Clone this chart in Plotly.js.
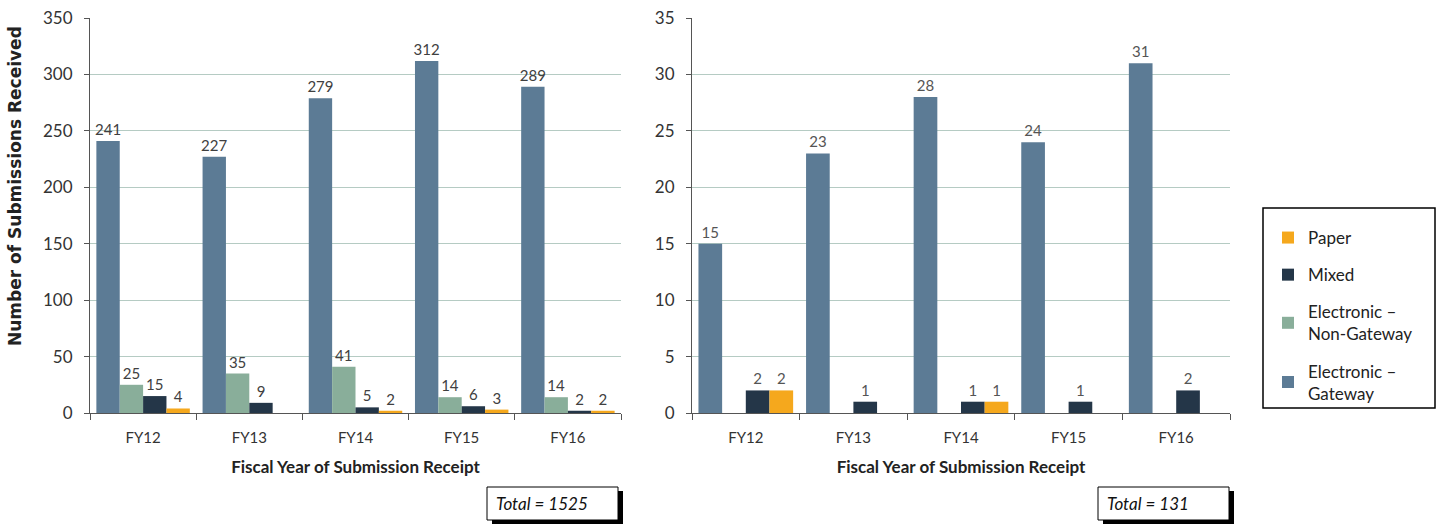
<!DOCTYPE html>
<html>
<head>
<meta charset="utf-8">
<script src="https://cdn.plot.ly/plotly-3.0.1.min.js"></script>
<style>html,body{margin:0;padding:0;background:#fff;}#chart{width:1440px;height:525px;}</style>
</head>
<body>
<div id="chart"></div>
<script>
// ---- data ----
const categories = ['FY12', 'FY13', 'FY14', 'FY15', 'FY16'];
const seriesNames = ['Electronic –<br>Gateway', 'Electronic –<br>Non-Gateway', 'Mixed', 'Paper'];
// left chart (all submissions)
const gatewayAll = [241, 227, 279, 312, 289];
const nonGatewayAll = [25, 35, 41, 14, 14];
const mixedAll = [15, 9, 5, 6, 2];
const paperAll = [4, 0, 2, 3, 2];
// right chart
const gatewayR = [15, 23, 28, 24, 31];
const nonGatewayR = [0, 0, 0, 0, 0];
const mixedR = [2, 1, 1, 1, 2];
const paperR = [2, 0, 1, 0, 0];
const yTicksLeft = [0, 50, 100, 150, 200, 250, 300, 350];
const yTicksRight = [0, 5, 10, 15, 20, 25, 30, 35];
const xTitle = 'Fiscal Year of Submission Receipt';
const yTitle = 'Number of Submissions Received';

const colors = ['#5c7b95', '#89ae9a', '#243648', '#f5a81d'];
const FONT = 'Lato, "Open Sans", sans-serif';

// layout geometry helpers (pixels -> paper coords)
const ML = 90, MR = 210, MT = 18, MB = 112, W = 1440, H = 525;
const PW = W - ML - MR, PH = H - MT - MB;
const px = v => (v - ML) / PW;
const py = v => (H - MB - v) / PH;

const leftSets = [gatewayAll, nonGatewayAll, mixedAll, paperAll];
const rightSets = [gatewayR, nonGatewayR, mixedR, paperR];
const lbl = arr => arr.map(v => v ? String(v) : '');
const sum = sets => sets.reduce((a, s) => a + s.reduce((x, y) => x + y, 0), 0);

const traces = [];
leftSets.forEach((vals, i) => {
  traces.push({
    type: 'bar', x: categories, y: vals, name: seriesNames[i], legendgroup: 'g' + i,
    legendrank: 100 - i * 10,
    marker: {color: colors[i]}, text: lbl(vals), textposition: 'outside',
    textfont: {family: FONT, size: 15, color: '#404040'}, constraintext: 'none',
    cliponaxis: false, hoverinfo: 'x+y+name', xaxis: 'x', yaxis: 'y'
  });
});
rightSets.forEach((vals, i) => {
  traces.push({
    type: 'bar', x: categories, y: vals, name: seriesNames[i], legendgroup: 'g' + i,
    legendrank: 100 - i * 10, showlegend: false,
    marker: {color: colors[i]}, text: lbl(vals), textposition: 'outside',
    textfont: {family: FONT, size: 15, color: '#555'}, constraintext: 'none',
    cliponaxis: false, hoverinfo: 'x+y+name', xaxis: 'x2', yaxis: 'y2'
  });
});

const axisLine = '#555555';
const gridCol = '#b5cbc3';
const xCommon = {
  type: 'category', tickson: 'boundaries', ticks: 'outside', ticklen: 6, tickcolor: axisLine,
  showline: true, linecolor: axisLine, linewidth: 1, showgrid: false,
  tickfont: {family: FONT, size: 15, color: '#333'}, ticklabelstandoff: 11,
  title: {text: xTitle, standoff: 16,
          font: {family: FONT, size: 17, color: '#222', weight: 'bold'}}
};
const yCommon = {
  ticks: 'outside', ticklen: 5, tickcolor: axisLine, showline: true, linecolor: axisLine,
  linewidth: 1, showgrid: true, gridcolor: gridCol, gridwidth: 1, zeroline: false,
  tickfont: {family: FONT, size: 17, color: '#333'}, ticklabelstandoff: 8
};

const layout = {
  width: W, height: H,
  margin: {l: ML, r: MR, t: MT, b: MB, pad: 0},
  paper_bgcolor: '#fff', plot_bgcolor: '#fff',
  barmode: 'group', bargap: 0.12, bargroupgap: 0,
  font: {family: FONT, color: '#333'},
  xaxis: Object.assign({}, xCommon, {domain: [0, px(621)], anchor: 'y'}),
  xaxis2: Object.assign({}, xCommon, {domain: [px(692), 1], anchor: 'y2'}),
  yaxis: Object.assign({}, yCommon, {range: [0, 350], tickvals: yTicksLeft, anchor: 'x'}),
  yaxis2: Object.assign({}, yCommon, {range: [0, 35], tickvals: yTicksRight, anchor: 'x2'}),
  showlegend: true,
  legend: {
    x: px(1268), y: py(220), xanchor: 'left', yanchor: 'top',
    traceorder: 'grouped', tracegroupgap: 12,
    font: {family: FONT, size: 17, color: '#222'}, bgcolor: 'rgba(0,0,0,0)', borderwidth: 0
  },
  shapes: [
    // legend frame
    {type: 'rect', xref: 'paper', yref: 'paper', x0: px(1263), x1: px(1435), y0: py(408), y1: py(208),
     line: {color: '#000', width: 1.5}, fillcolor: 'rgba(0,0,0,0)', layer: 'below'},
    // total box left (shadow + box)
    {type: 'rect', xref: 'paper', yref: 'paper', x0: px(492), x1: px(623), y0: py(524), y1: py(491),
     line: {width: 0}, fillcolor: '#000'},
    {type: 'rect', xref: 'paper', yref: 'paper', x0: px(487), x1: px(618), y0: py(520), y1: py(487),
     line: {color: '#000', width: 1}, fillcolor: '#fff'},
    // total box right
    {type: 'rect', xref: 'paper', yref: 'paper', x0: px(1103), x1: px(1234), y0: py(524), y1: py(491),
     line: {width: 0}, fillcolor: '#000'},
    {type: 'rect', xref: 'paper', yref: 'paper', x0: px(1098), x1: px(1229), y0: py(520), y1: py(487),
     line: {color: '#000', width: 1}, fillcolor: '#fff'}
  ],
  annotations: [
    // y axis title
    {xref: 'paper', yref: 'paper', x: px(15), y: py(186), xanchor: 'center', yanchor: 'middle',
     text: '<b>' + yTitle + '</b>', textangle: -90, showarrow: false,
     font: {family: '"DejaVu Sans", sans-serif', size: 17, color: '#222'}},
    {xref: 'paper', yref: 'paper', x: px(494), y: py(504), xanchor: 'left', yanchor: 'middle',
     text: '<i>Total = ' + sum(leftSets) + '</i>', showarrow: false,
     font: {family: FONT, size: 17, color: '#111'}},
    {xref: 'paper', yref: 'paper', x: px(1105), y: py(504), xanchor: 'left', yanchor: 'middle',
     text: '<i>Total = ' + sum(rightSets) + '</i>', showarrow: false,
     font: {family: FONT, size: 17, color: '#111'}}
  ]
};

Plotly.newPlot('chart', traces, layout, {displayModeBar: false, staticPlot: true});
</script>
</body>
</html>
